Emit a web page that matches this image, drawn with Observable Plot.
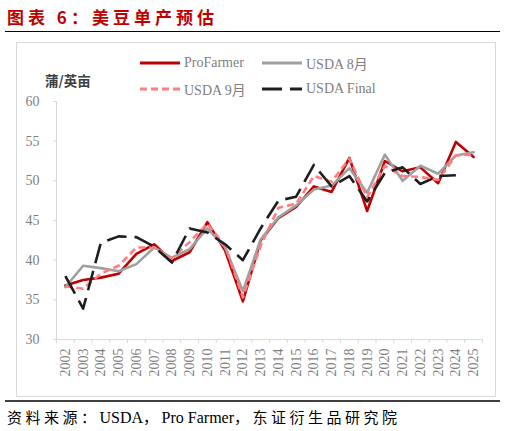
<!DOCTYPE html>
<html><head><meta charset="utf-8">
<script src="https://cdn.jsdelivr.net/npm/d3@7"></script>
<script src="https://cdn.jsdelivr.net/npm/@observablehq/plot@0.6"></script>
<style>
html,body{margin:0;padding:0;background:#fff;}
#wrap{position:relative;width:506px;height:431px;overflow:hidden;font-family:"Liberation Serif","Noto Sans CJK SC",serif;}
.abs{position:absolute;white-space:nowrap;}
#title{left:7px;top:5px;font-family:"Noto Sans CJK SC",sans-serif;font-weight:700;font-size:17px;letter-spacing:4px;color:#c00000;line-height:24px;}
#rule1{left:5px;top:31px;width:495px;height:1px;background:#000;}
#box{left:16px;top:42px;width:480px;height:355px;border:1px solid #d9d9d9;box-sizing:border-box;}
#rule2{left:5px;top:400px;width:495px;height:2px;background:#3f3f3f;}
#source{left:7px;top:406px;font-size:16px;color:#000;line-height:22px;}
#source .cj{font-family:"Noto Sans CJK SC",sans-serif;font-size:15px;letter-spacing:3.5px;}
#unit{left:45px;top:71px;font-family:"Noto Sans CJK SC",sans-serif;font-weight:700;font-size:13.5px;color:#404040;line-height:18px;}
.leg{position:absolute;display:flex;align-items:center;font-size:14px;font-weight:400;color:#808080;height:20px;}
.leg svg{margin-right:4px;}
#chart{position:absolute;left:0;top:0;}
</style></head>
<body><div id="wrap">
<div id="box" class="abs"></div>
<div id="title" class="abs">图表 6：美豆单产预估</div>
<div id="rule1" class="abs"></div>
<div id="unit" class="abs">蒲/英亩</div>
<div id="chart"></div>
<div id="legend"></div>
<div id="rule2" class="abs"></div>
<div id="source" class="abs"><span class="cj">资料来源：</span>USDA<span class="cj">，</span>Pro Farmer<span class="cj">，东证衍生品研究院</span></div>
</div>
<script>
const years = [2002,2003,2004,2005,2006,2007,2008,2009,2010,2011,2012,2013,2014,2015,2016,2017,2018,2019,2020,2021,2022,2023,2024,2025];
const proFarmer = [36.8,37.5,37.8,38.3,40.8,42.0,39.9,41.0,44.8,41.2,34.8,42.5,45.3,46.7,49.3,48.6,52.9,46.2,52.5,51.2,51.7,49.7,54.9,53.0];
const usdaAug   = [36.6,39.3,39.0,38.6,39.5,41.6,40.3,41.4,44.0,41.6,36.1,42.6,45.4,46.9,48.9,49.4,51.6,48.5,53.3,50.0,51.9,50.9,53.2,53.6];
const usdaSep   = [36.7,36.4,38.3,39.3,41.6,41.6,40.2,42.3,44.6,41.8,35.3,41.8,46.6,47.1,50.6,49.9,52.8,47.9,51.9,50.6,50.5,50.1,53.2,53.3];
const usdaFinal = [38.0,33.9,42.2,43.0,42.9,41.7,39.7,44.0,43.5,42.0,40.0,44.0,47.5,48.0,52.0,49.3,50.6,47.4,51.0,51.7,49.6,50.6,50.7,null];
const yTicks = [30,35,40,45,50,55,60];
const seriesNames = ["ProFarmer","USDA 8月","USDA 9月","USDA Final"];
const seriesColors = ["#c00000","#a0a0a0","#ff7c80","#1e1e1e"];
const seriesDash = [null,null,"7,4","20,8"];
const seriesValues = [proFarmer,usdaAug,usdaSep,usdaFinal];

const rows = [];
seriesValues.forEach((vals,si)=>vals.forEach((v,i)=>{ if(v!=null) rows.push({series:seriesNames[si], year:years[i], value:v}); }));
const boundaries = years.map(y=>y-0.5).concat([years[years.length-1]+0.5]);

const lineMarks = seriesNames.map((name,si)=>Plot.line(rows.filter(r=>r.series===name),{
  x:"year", y:"value", stroke:seriesColors[si], strokeWidth:2.6,
  strokeDasharray: seriesDash[si] || undefined, strokeLinejoin:"round", strokeLinecap: seriesDash[si] ? "butt" : "round"
}));

const chart = Plot.plot({
  width:506, height:431,
  marginLeft:56, marginRight:24, marginTop:101, marginBottom:92,
  x:{type:"linear", domain:[boundaries[0], boundaries[boundaries.length-1]]},
  y:{domain:[30,60]},
  style:{background:"transparent", fontFamily:"Liberation Serif", fontSize:"14px", color:"#7f7f7f"},
  marks:[
    Plot.ruleX([boundaries[0]],{stroke:"#d9d9d9", strokeWidth:1}),
    Plot.ruleY([30],{stroke:"#d9d9d9", strokeWidth:1}),
    Plot.axisY({ticks:yTicks, tickSize:3, tickPadding:14, stroke:"#d9d9d9", strokeOpacity:1, fill:"#7f7f7f", label:null}),
    Plot.axisX({ticks:boundaries, tickSize:4, tickFormat:()=>"", stroke:"#d9d9d9", strokeOpacity:1, label:null}),
    Plot.axisX({ticks:years, tickSize:0, tickPadding:9, tickRotate:-90, tickFormat:d=>String(d), fill:"#7f7f7f", label:null}),
    ...lineMarks
  ]
});
document.getElementById("chart").appendChild(chart);

// legend
const legPos = [[140,53],[262,53],[140,79],[262,79]];
const legend = document.getElementById("legend");
seriesNames.forEach((name,si)=>{
  const d = document.createElement("div");
  d.className="leg";
  d.style.left = legPos[si][0]+"px"; d.style.top = legPos[si][1]+"px";
  const dash = seriesDash[si] ? `stroke-dasharray="${seriesDash[si]}"` : "";
  d.innerHTML = `<svg width="40" height="6"><line x1="0" y1="3" x2="40" y2="3" stroke="${seriesColors[si]}" stroke-width="3" ${dash}/></svg><span>${name}</span>`;
  legend.appendChild(d);
});
</script>
</body></html>
